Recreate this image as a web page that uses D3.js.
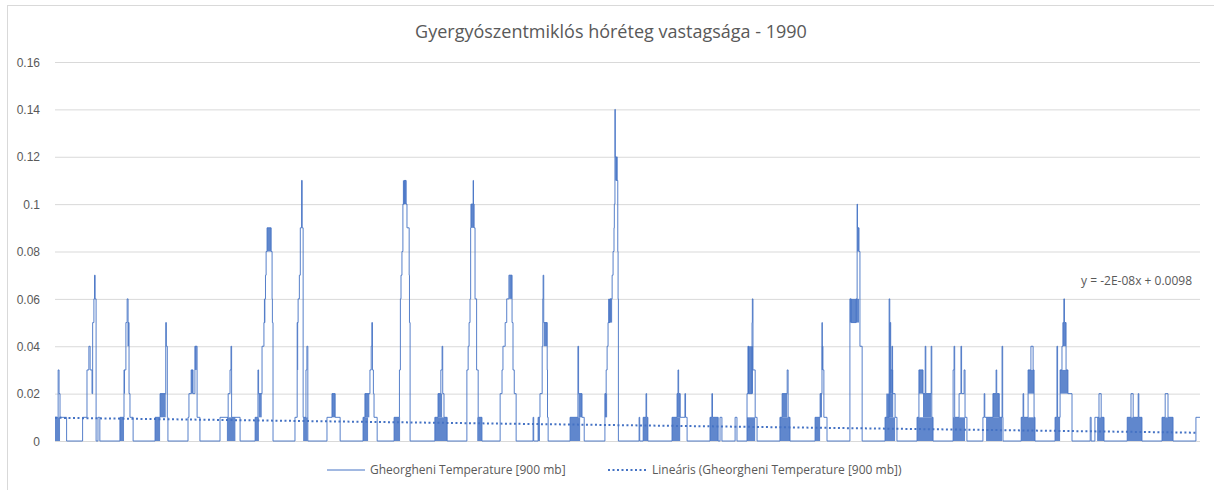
<!DOCTYPE html>
<html>
  <head>
    <meta charset="UTF-8">
    <style>
      body {
        margin: 0;
        background: white;
        font-family: 'Open Sans', 'Noto Sans', Arial, sans-serif;
      }

      .y-axis text,
      .legend text,
      .equation {
        fill: #595959;
        font-size: 12px;
      }

      .title {
        fill: #595959;
        font-size: 18px;
      }

      .grid line {
        stroke: #d9d9d9;
      }
    </style>
    <script src="https://d3js.org/d3.v7.min.js"></script>
  </head>

  <body>
    <svg id="chart"></svg>

    <script type="text/javascript">
      const chartTitle = 'Gyergyószentmiklós hóréteg vastagsága - 1990'
      const seriesName = 'Gheorgheni Temperature [900 mb]'
      const trendName = 'Lineáris (Gheorgheni Temperature [900 mb])'
      const trendEquation = 'y = -2E-08x + 0.0098'

      const yTicks = [0, 0.02, 0.04, 0.06, 0.08, 0.1, 0.12, 0.14, 0.16]
      const dayRange = [0, 365]

      // trend line values at the first and the last day
      const trendValues = [0.0098, 0.0035]

      // snow depth: [day, value] — the value holds from that day until the next entry
      const snowSteps = [
        [0, 0.01], [1.0, 0.03], [1.3, 0.02], [1.6, 0.01], [3.7, 0], [8.8, 0.01], [10.2, 0.03], [10.8, 0.04],
        [11.2, 0.03], [11.8, 0.02], [12.0, 0.05], [12.4, 0.06], [12.6, 0.07], [12.8, 0.06], [13.1, 0],
        [13.7, 0.01], [14.3, 0],
        [20.7, 0.01], [22.0, 0.03], [22.6, 0.05], [23.0, 0.06], [23.3, 0.05], [23.6, 0.02], [23.9, 0.01], [24.9, 0],
        [31.9, 0.01], [33.5, 0.02], [35.3, 0.05], [35.5, 0.04], [35.8, 0.01], [36.0, 0],
        [42.4, 0.01], [42.7, 0.02], [43.4, 0.03], [44.0, 0.02], [44.6, 0.04], [45.3, 0.01], [46.2, 0],
        [52.6, 0.01], [55.2, 0.02], [55.8, 0.03], [56.1, 0.04], [56.3, 0.01], [59.0, 0],
        [63.8, 0.01], [64.7, 0.03], [64.9, 0.02], [66.0, 0.04], [66.6, 0.05], [66.9, 0.06], [67.1, 0.07],
        [67.3, 0.08], [67.6, 0.09], [68.9, 0.08], [69.2, 0.06], [69.3, 0.05], [69.5, 0],
        [76.5, 0.01], [77.2, 0.05], [77.5, 0.06], [77.9, 0.07], [78.2, 0.09], [78.6, 0.11], [78.8, 0.09],
        [79.1, 0.01], [80.0, 0.03], [80.3, 0.04], [80.6, 0],
        [86.7, 0.01], [88.3, 0.02], [89.3, 0.01], [90.9, 0],
        [98.2, 0.01], [98.8, 0.02], [100.4, 0.03], [100.8, 0.04], [101.0, 0.05], [101.2, 0.03], [101.5, 0.02],
        [101.7, 0.01], [102.7, 0],
        [108.1, 0.01], [109.8, 0.03], [110.1, 0.06], [110.3, 0.07], [110.6, 0.08], [110.9, 0.1], [111.3, 0.11],
        [111.9, 0.1], [112.2, 0.09], [112.9, 0.07], [113.0, 0.05], [113.2, 0],
        [121.1, 0.01], [122.1, 0.02], [123.0, 0.03], [123.4, 0.04], [123.6, 0.02], [124.0, 0.01], [125.0, 0],
        [131.3, 0.03], [131.7, 0.04], [132.0, 0.05], [132.3, 0.06], [132.5, 0.09], [132.6, 0.1], [133.3, 0.11],
        [133.4, 0.1], [133.6, 0.09], [133.9, 0.06], [134.4, 0.03], [134.9, 0.01], [136.1, 0],
        [141.9, 0.02], [142.5, 0.03], [142.8, 0.04], [143.5, 0.05], [144.0, 0.06], [144.7, 0.07], [145.7, 0.05],
        [146.0, 0.03], [146.4, 0.02], [147.0, 0],
        [152.4, 0.01], [152.6, 0],
        [154.0, 0.01], [154.6, 0.02], [155.3, 0.04], [155.5, 0.06], [155.6, 0.07], [155.8, 0.05], [156.9, 0.03],
        [157.0, 0.01], [157.2, 0],
        [164.2, 0.01], [166.7, 0.04], [166.9, 0.02], [168.0, 0.01], [168.7, 0],
        [175.3, 0.02], [175.7, 0.03], [176.0, 0.04], [176.3, 0.05], [176.9, 0.06], [177.6, 0.07], [177.9, 0.08],
        [178.2, 0.09], [178.3, 0.1], [178.5, 0.14], [178.6, 0.12], [178.9, 0.11], [179.4, 0.08], [179.5, 0.06],
        [179.6, 0],
        [186.2, 0.01], [186.4, 0], [187.5, 0.01], [188.4, 0.02], [188.6, 0.01], [189.0, 0],
        [196.7, 0.01], [198.3, 0.02], [198.6, 0.03], [198.8, 0.02], [199.3, 0.01], [200.8, 0.02], [201.0, 0.01],
        [201.5, 0],
        [208.8, 0.01], [209.4, 0.02], [209.6, 0.01], [211.4, 0], [212.0, 0.01], [212.6, 0], [216.8, 0.01],
        [217.4, 0],
        [220.6, 0.02], [220.9, 0.04], [221.1, 0.02], [222.2, 0.05], [222.3, 0.06], [222.5, 0.03], [223.2, 0.01],
        [223.8, 0],
        [231.1, 0.01], [231.8, 0.02], [233.4, 0.03], [233.7, 0.01], [234.3, 0],
        [242.3, 0.01], [243.9, 0.02], [244.5, 0.05], [244.6, 0.04], [244.8, 0.03], [245.1, 0.01], [246.1, 0],
        [253.4, 0.06], [253.8, 0.05], [255.4, 0.06], [255.7, 0.1], [255.8, 0.09], [256.3, 0.08], [256.6, 0.04],
        [257.3, 0],
        [264.6, 0.01], [265.9, 0.06], [266.1, 0.02], [266.2, 0.05], [266.4, 0.03], [266.8, 0.04], [267.0, 0.02],
        [267.8, 0.01], [268.4, 0],
        [274.8, 0.01], [275.4, 0.03], [276.7, 0.02], [277.4, 0.04], [277.6, 0.02], [279.3, 0.04], [279.5, 0.01],
        [279.9, 0],
        [286.3, 0.03], [286.6, 0.04], [286.8, 0.01], [288.2, 0.02], [288.8, 0.04], [289.0, 0.02], [289.8, 0.03],
        [290.1, 0.01], [290.7, 0],
        [295.8, 0.01], [296.2, 0.02], [296.4, 0.01], [299.0, 0.02], [300.0, 0.03], [300.2, 0.02], [301.0, 0.01],
        [301.9, 0.04], [302.1, 0.01], [302.2, 0],
        [308.0, 0.01], [308.6, 0.02], [308.8, 0.01], [310.2, 0.03], [311.1, 0.04], [311.8, 0.03], [312.1, 0.01],
        [312.4, 0],
        [318.8, 0.01], [319.4, 0.04], [319.6, 0.01], [320.4, 0.03], [321.0, 0.04], [321.3, 0.05], [321.6, 0.06],
        [321.8, 0.05], [322.3, 0.03], [322.9, 0.02], [324.2, 0],
        [330.0, 0.01], [330.3, 0], [331.5, 0.01], [332.8, 0.02], [333.5, 0.01], [334.4, 0],
        [341.8, 0.01], [343.0, 0.02], [343.7, 0.01], [345.3, 0.02], [345.5, 0.01], [346.5, 0],
        [352.9, 0.01], [353.9, 0.02], [354.8, 0.01], [356.4, 0],
        [363.7, 0.01], [365, 0.01]
      ]

      // spans where the value flips between two levels faster than the plot can show: [from, to, low, high]
      const denseSpans = [
        [0, 1.6, 0, 0.01], [22.0, 22.3, 0.02, 0.03], [23.1, 23.6, 0.04, 0.05], [20.7, 22.0, 0, 0.01],
        [31.9, 33.5, 0, 0.01], [33.5, 35.3, 0.01, 0.02],
        [43.4, 44.0, 0.02, 0.03], [44.6, 45.2, 0.03, 0.04],
        [54.8, 57.5, 0, 0.01],
        [63.8, 65.0, 0, 0.01], [64.9, 65.9, 0.01, 0.02], [66.6, 66.9, 0.05, 0.06], [67.6, 68.9, 0.08, 0.09],
        [77.2, 77.5, 0.03, 0.05], [79.1, 80.5, 0, 0.01],
        [88.3, 89.3, 0.01, 0.02],
        [98.2, 99.8, 0, 0.01], [98.8, 100.2, 0.01, 0.02],
        [108.1, 110.0, 0, 0.01], [110.9, 112.0, 0.1, 0.11],
        [121.1, 125.0, 0, 0.01], [122.1, 123.4, 0.01, 0.02],
        [132.6, 133.6, 0.09, 0.1], [134.6, 136.1, 0, 0.01],
        [144.8, 145.7, 0.06, 0.07],
        [154.0, 154.6, 0, 0.01], [155.8, 156.9, 0.04, 0.05],
        [164.2, 167.4, 0, 0.01], [166.9, 168.0, 0.01, 0.02],
        [175.3, 176.0, 0.01, 0.02], [176.3, 177.6, 0.05, 0.06], [178.6, 179.4, 0.11, 0.12],
        [187.5, 189.0, 0, 0.01],
        [196.7, 199.3, 0, 0.01], [198.3, 199.3, 0.01, 0.02],
        [208.8, 211.4, 0, 0.01],
        [220.6, 223.2, 0, 0.01], [220.9, 222.5, 0.02, 0.04],
        [231.1, 234.3, 0, 0.01], [231.8, 233.4, 0.01, 0.02],
        [242.3, 243.9, 0, 0.01], [243.9, 244.5, 0.01, 0.02], [244.4, 244.8, 0.03, 0.04],
        [253.4, 256.3, 0.05, 0.06], [255.7, 256.3, 0.08, 0.09],
        [264.6, 267.8, 0, 0.01], [265.0, 267.2, 0.01, 0.02], [266.2, 267.2, 0.02, 0.03],
        [274.8, 279.9, 0, 0.01], [275.4, 276.7, 0.02, 0.03], [276.7, 279.3, 0.01, 0.02],
        [286.3, 290.1, 0, 0.01],
        [296.8, 301.9, 0, 0.01], [299.0, 301.0, 0.01, 0.02],
        [308.0, 312.4, 0, 0.01], [310.2, 312.1, 0.02, 0.03],
        [318.8, 320.4, 0, 0.01], [320.4, 322.9, 0.02, 0.03], [321.3, 322.3, 0.04, 0.05],
        [332.2, 334.4, 0, 0.01],
        [341.8, 346.5, 0, 0.01],
        [352.9, 356.4, 0, 0.01]
      ]

      const lineColor = '#4472c4'

      function getChartConfig() {
        let width = 1214
        let height = 490
        let margin = { top: 62, right: 14, bottom: 49, left: 55 }
        let bodyWidth = width - margin.left - margin.right
        let bodyHeight = height - margin.top - margin.bottom

        let container = d3.select('#chart')
          .attr('width', width)
          .attr('height', height)

        return { width, height, margin, bodyWidth, bodyHeight, container }
      }

      function getChartScales(config) {
        let xScale = d3.scaleLinear()
          .domain(dayRange)
          .range([0, config.bodyWidth])

        let yScale = d3.scaleLinear()
          .domain([0, d3.max(yTicks)])
          .range([config.bodyHeight, 0])

        return { xScale, yScale }
      }

      function drawFrame(config) {
        config.container.append('rect')
          .attr('x', 7.5)
          .attr('y', 5.5)
          .attr('width', config.width)
          .attr('height', config.height)
          .attr('fill', 'white')
          .attr('stroke', '#d9d9d9')

        config.container.append('text')
          .attr('class', 'title')
          .attr('x', 611)
          .attr('y', 38)
          .attr('text-anchor', 'middle')
          .text(chartTitle)
      }

      function drawAxes(scales, config) {
        let body = config.container.append('g')
          .attr('transform', `translate(${config.margin.left}, ${config.margin.top})`)

        body.append('g')
          .attr('class', 'grid')
          .call(d3.axisLeft(scales.yScale)
            .tickValues(yTicks)
            .tickSize(-config.bodyWidth)
            .tickFormat(''))
          .select('.domain')
            .remove()

        let labels = body.append('g')
          .attr('class', 'y-axis')
          .attr('transform', 'translate(-12, 0)')
          .call(d3.axisLeft(scales.yScale)
            .tickValues(yTicks)
            .tickSize(0)
            .tickFormat(d => d3.format('~g')(d)))
        labels.select('.domain').remove()
        labels.selectAll('text').attr('dx', 0).attr('dy', '0.35em')

        return body
      }

      function drawSeries(body, scales) {
        body.append('g')
          .selectAll('rect')
          .data(denseSpans)
          .enter()
          .append('rect')
          .attr('x', d => scales.xScale(d[0]))
          .attr('width', d => Math.max(1, scales.xScale(d[1]) - scales.xScale(d[0])))
          .attr('y', d => scales.yScale(d[3]))
          .attr('height', d => scales.yScale(d[2]) - scales.yScale(d[3]))
          .attr('fill', lineColor)
          .attr('opacity', 0.85)

        body.append('path')
          .datum(snowSteps)
          .attr('d', d3.line()
            .curve(d3.curveStepAfter)
            .x(d => scales.xScale(d[0]))
            .y(d => scales.yScale(d[1])))
          .attr('fill', 'none')
          .attr('stroke', lineColor)
          .attr('stroke-width', 0.9)

        body.append('line')
          .attr('x1', scales.xScale(dayRange[0]))
          .attr('x2', scales.xScale(dayRange[1]) - 3)
          .attr('y1', scales.yScale(trendValues[0]))
          .attr('y2', scales.yScale(trendValues[1]))
          .attr('stroke', lineColor)
          .attr('stroke-width', 2)
          .attr('stroke-dasharray', '2 2.5')

        body.append('text')
          .attr('class', 'equation')
          .attr('x', scales.xScale(dayRange[1]) - 8)
          .attr('y', scales.yScale(0.066))
          .attr('text-anchor', 'end')
          .text(trendEquation)
      }

      function drawLegend(config) {
        let legend = config.container.append('g')
          .attr('class', 'legend')
          .attr('transform', 'translate(0, 470)')

        legend.append('line')
          .attr('x1', 327).attr('x2', 365)
          .attr('stroke', lineColor)
          .attr('stroke-width', 1)
        legend.append('text')
          .attr('x', 370)
          .attr('dy', '0.35em')
          .text(seriesName)

        legend.append('line')
          .attr('x1', 608).attr('x2', 646)
          .attr('stroke', lineColor)
          .attr('stroke-width', 2)
          .attr('stroke-dasharray', '2 2.5')
        legend.append('text')
          .attr('x', 652)
          .attr('dy', '0.35em')
          .text(trendName)
      }

      let config = getChartConfig()
      let scales = getChartScales(config)
      drawFrame(config)
      let body = drawAxes(scales, config)
      drawSeries(body, scales)
      drawLegend(config)
    </script>
  </body>
</html>
